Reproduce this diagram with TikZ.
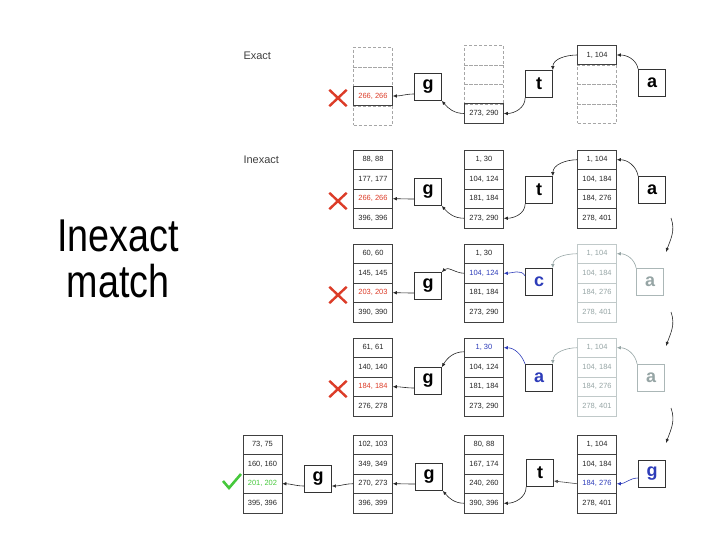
\documentclass[tikz,border=0pt]{standalone}
\usepackage{fontspec}
\setmainfont{Liberation Sans}
\newfontfamily\bigsans[FakeStretch=0.82]{Liberation Sans}
\usetikzlibrary{arrows.meta,shapes.misc}
\definecolor{hitred}{RGB}{220,60,40}
\definecolor{qblue}{RGB}{45,60,185}
\definecolor{okgreen}{RGB}{70,200,60}
\definecolor{faded}{RGB}{150,165,165}
\tikzset{
  cell/.style={rectangle, draw=black!75, line width=0.6pt, minimum width=39pt, minimum height=19.5pt,
               inner sep=0pt, font=\fontsize{7.5}{8}\selectfont, text=black!85},
  ghost/.style={cell, draw=gray!70, densely dashed, line width=0.4pt},
  dimcell/.style={cell, draw=faded!60, text=faded},
  letter/.style={rectangle, draw=black!80, line width=0.7pt, minimum size=27pt, inner sep=0pt,
                 font=\fontsize{18}{18}\selectfont\bfseries, fill=white},
  dimletter/.style={letter, draw=faded!80, text=faded},
  miss/.style={cross out, draw=hitred, line width=2.4pt, minimum width=15pt, minimum height=14pt, inner sep=0pt},
  arrow/.style={-{Latex[length=4pt,width=3.5pt]}, line width=0.6pt, black!85},
}

\begin{document}
\begin{tikzpicture}[x=1pt, y=-1pt]
    \useasboundingbox (0,0) rectangle (720,540);

    % Slide title
    \node[font=\bigsans\fontsize{46}{46}\selectfont, align=center] (title) at (118,259) {Inexact\\match};

    % Row labels
    \node[anchor=west, font=\fontsize{11}{12}\selectfont, text=black!75] (exact) at (240,56) {Exact};
    \node[anchor=west, font=\fontsize{11}{12}\selectfont, text=black!75] (inexact) at (240,160) {Inexact};

    % Row 1 (exact)
    \node[ghost] (r1a1) at (373,57) {};
    \node[ghost] (r1a2) at (373,76.5) {};
    \node[ghost] (r1a4) at (373,115.5) {};
    \node[cell, text=hitred] (r1a3) at (373,96) {266, 266};
    \node[ghost] (r1b1) at (484,55) {};
    \node[ghost] (r1b2) at (484,74.5) {};
    \node[ghost] (r1b3) at (484,94) {};
    \node[cell] (r1b4) at (484,113.5) {273, 290};
    \node[ghost] (r1c2) at (597,74.5) {};
    \node[ghost] (r1c3) at (597,94) {};
    \node[ghost] (r1c4) at (597,113.5) {};
    \node[cell] (r1c1) at (597,55) {1, 104};
    \node[letter] (g1) at (428,87) {g};
    \node[letter] (t1) at (539,84) {t};
    \node[letter] (a1) at (652,83) {a};
    \node[miss] (x1) at (338,98) {};

    \draw[arrow] (a1.north west) to[out=100, in=0] (r1c1.east);
    \draw[arrow] (r1c1.west) to[out=180, in=90] (t1.north east);
    \draw[arrow] (t1.south west) to[out=-90, in=0] (r1b4.east);
    \draw[arrow] (r1b4.west) to[out=180, in=-50] (g1.south east);
    \draw[arrow] ([yshift=-7pt]g1.west) to[out=180, in=0] (r1a3.east);

    % Row 2 (inexact, a t g)
    \node[cell] (r2a1) at (373,159.75) {88, 88};
    \node[cell] (r2a2) at (373,179.25) {177, 177};
    \node[cell, text=hitred] (r2a3) at (373,198.75) {266, 266};
    \node[cell] (r2a4) at (373,218.25) {396, 396};
    \node[cell] (r2b1) at (484,159.75) {1, 30};
    \node[cell] (r2b2) at (484,179.25) {104, 124};
    \node[cell] (r2b3) at (484,198.75) {181, 184};
    \node[cell] (r2b4) at (484,218.25) {273, 290};
    \node[cell] (r2c1) at (597,159.75) {1, 104};
    \node[cell] (r2c2) at (597,179.25) {104, 184};
    \node[cell] (r2c3) at (597,198.75) {184, 276};
    \node[cell] (r2c4) at (597,218.25) {278, 401};
    \node[letter] (g2) at (428,192) {g};
    \node[letter] (t2) at (539,190) {t};
    \node[letter] (a2) at (652,190) {a};
    \node[miss] (x2) at (338,201) {};

    \draw[arrow] (a2.north west) to[out=100, in=0] (r2c1.east);
    \draw[arrow] (r2c1.west) to[out=180, in=90] (t2.north east);
    \draw[arrow] (t2.south west) to[out=-90, in=0] (r2b4.east);
    \draw[arrow] (r2b4.west) to[out=180, in=-50] (g2.south east);
    \draw[arrow] ([yshift=-7pt]g2.west) to[out=180, in=0] (r2a3.east);

    % Row 3 (c instead of t)
    \node[cell] (r3a1) at (373,253.75) {60, 60};
    \node[cell] (r3a2) at (373,273.25) {145, 145};
    \node[cell, text=hitred] (r3a3) at (373,292.75) {203, 203};
    \node[cell] (r3a4) at (373,312.25) {390, 390};
    \node[cell] (r3b1) at (484,253.75) {1, 30};
    \node[cell, text=qblue] (r3b2) at (484,273.25) {104, 124};
    \node[cell] (r3b3) at (484,292.75) {181, 184};
    \node[cell] (r3b4) at (484,312.25) {273, 290};
    \node[dimcell] (r3c1) at (597,253.75) {1, 104};
    \node[dimcell] (r3c2) at (597,273.25) {104, 184};
    \node[dimcell] (r3c3) at (597,292.75) {184, 276};
    \node[dimcell] (r3c4) at (597,312.25) {278, 401};
    \node[letter] (g3) at (428,286) {g};
    \node[letter, text=qblue] (c3) at (539,282) {c};
    \node[dimletter] (a3) at (650,282) {a};
    \node[miss] (x3) at (338,295) {};

    \draw[arrow, faded] (a3.north west) to[out=100, in=0] (r3c1.east);
    \draw[arrow, faded] (r3c1.west) to[out=180, in=90] (c3.north east);
    \draw[arrow, qblue] ([yshift=6pt]c3.west) to[out=120, in=0] (r3b2.east);
    \draw[arrow] (r3b2.west) to[out=180, in=45] (g3.north east);
    \draw[arrow] ([yshift=-7pt]g3.west) to[out=180, in=0] (r3a3.east);

    % Row 4 (a instead of t)
    \node[cell] (r4a1) at (373,347.75) {61, 61};
    \node[cell] (r4a2) at (373,367.25) {140, 140};
    \node[cell, text=hitred] (r4a3) at (373,386.75) {184, 184};
    \node[cell] (r4a4) at (373,406.25) {276, 278};
    \node[cell, text=qblue] (r4b1) at (484,347.75) {1, 30};
    \node[cell] (r4b2) at (484,367.25) {104, 124};
    \node[cell] (r4b3) at (484,386.75) {181, 184};
    \node[cell] (r4b4) at (484,406.25) {273, 290};
    \node[dimcell] (r4c1) at (597,347.75) {1, 104};
    \node[dimcell] (r4c2) at (597,367.25) {104, 184};
    \node[dimcell] (r4c3) at (597,386.75) {184, 276};
    \node[dimcell] (r4c4) at (597,406.25) {278, 401};
    \node[letter] (g4) at (428,381) {g};
    \node[letter, text=qblue] (a4) at (539,378) {a};
    \node[dimletter] (a4f) at (651,378) {a};
    \node[miss] (x4) at (338,389) {};

    \draw[arrow, faded] (a4f.north west) to[out=100, in=0] (r4c1.east);
    \draw[arrow, faded] (r4c1.west) to[out=180, in=90] (a4.north east);
    \draw[arrow, qblue] (a4.north west) to[out=110, in=0] (r4b1.east);
    \draw[arrow] ([yshift=-4pt]r4b1.west) to[out=180, in=60] (g4.north east);
    \draw[arrow] ([yshift=-7pt]g4.west) to[out=180, in=0] (r4a3.east);

    % Row 5 (g instead of a) -> hit
    \node[cell] (r5z1) at (262.5,444.75) {73, 75};
    \node[cell] (r5z2) at (262.5,464.25) {160, 160};
    \node[cell, text=okgreen] (r5z3) at (262.5,483.75) {201, 202};
    \node[cell] (r5z4) at (262.5,503.25) {395, 396};
    \node[cell] (r5a1) at (373,444.75) {102, 103};
    \node[cell] (r5a2) at (373,464.25) {349, 349};
    \node[cell] (r5a3) at (373,483.75) {270, 273};
    \node[cell] (r5a4) at (373,503.25) {396, 399};
    \node[cell] (r5b1) at (484,444.75) {80, 88};
    \node[cell] (r5b2) at (484,464.25) {167, 174};
    \node[cell] (r5b3) at (484,483.75) {240, 260};
    \node[cell] (r5b4) at (484,503.25) {390, 396};
    \node[cell] (r5c1) at (597,444.75) {1, 104};
    \node[cell] (r5c2) at (597,464.25) {104, 184};
    \node[cell, text=qblue] (r5c3) at (597,483.75) {184, 276};
    \node[cell] (r5c4) at (597,503.25) {278, 401};
    \node[letter] (g0) at (318,479) {g};
    \node[letter] (g5) at (429,477) {g};
    \node[letter] (t5) at (540,473) {t};
    \node[letter, text=qblue] (g5b) at (652,474) {g};
    \draw[okgreen, line width=2.6pt] (223,481) -- (229,488) -- (241,474);

    \draw[arrow, qblue] ([yshift=-4pt]g5b.west) to[out=180, in=0] (r5c3.east);
    \draw[arrow, black!70] (r5c3.west) -- ([yshift=-8pt]t5.east);
    \draw[arrow] (t5.south west) to[out=-90, in=0] (r5b4.east);
    \draw[arrow] (r5b4.west) to[out=180, in=-50] (g5.south east);
    \draw[arrow] ([yshift=-7pt]g5.west) to[out=180, in=0] (r5a3.east);
    \draw[arrow] (r5a3.west) to[out=180, in=0] ([yshift=-7pt]g0.east);
    \draw[arrow] ([yshift=-7pt]g0.west) to[out=180, in=0] (r5z3.east);

    % Backtracking steps
    \coordinate (s23) at (671,218);
    \coordinate (e23) at (666,252);
    \coordinate (s34) at (671,312);
    \coordinate (e34) at (666,346);
    \coordinate (s45) at (671,408);
    \coordinate (e45) at (666,443);
    \draw[arrow] (s23) to[out=-70, in=70] (e23);
    \draw[arrow] (s34) to[out=-70, in=70] (e34);
    \draw[arrow] (s45) to[out=-70, in=70] (e45);

\end{tikzpicture}
\end{document}
